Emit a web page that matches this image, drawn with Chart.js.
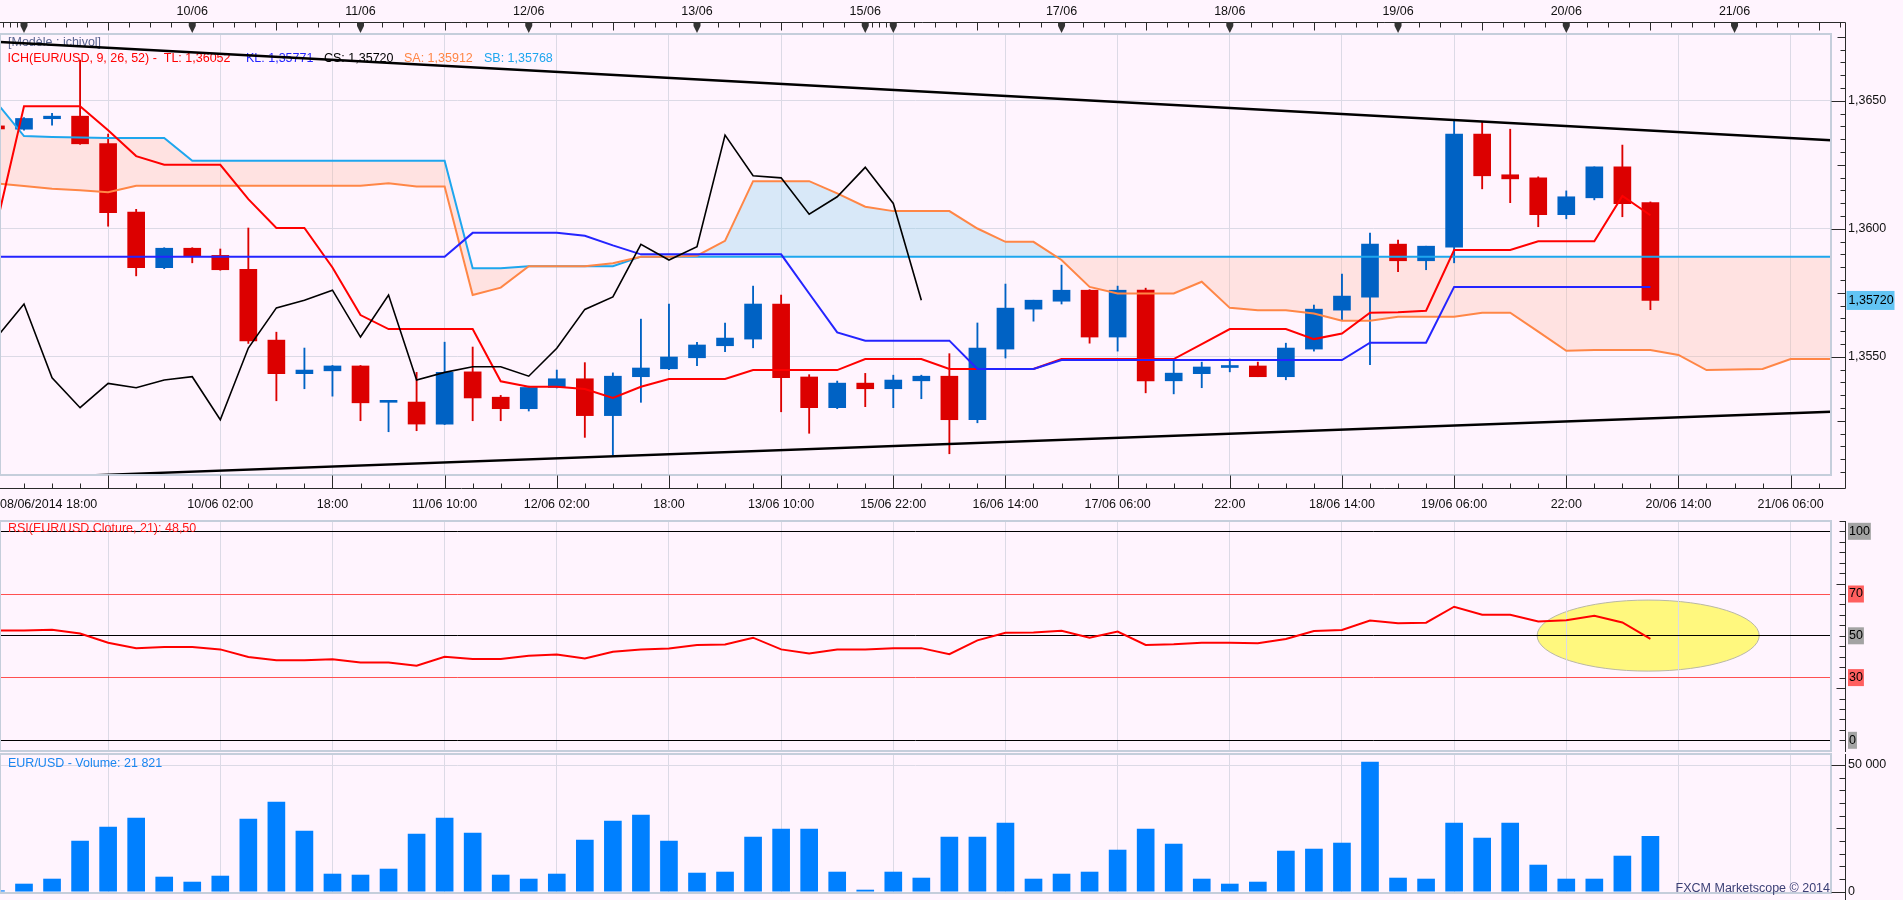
<!DOCTYPE html>
<html lang="fr">
<head>
<meta charset="utf-8">
<title>EUR/USD Ichimoku - FXCM Marketscope</title>
<script src="https://cdn.jsdelivr.net/npm/chart.js@4.4.1/dist/chart.umd.min.js"></script>
<style>
  html, body { margin:0; padding:0; background:#fff4fe; overflow:hidden; }
  #wrap { position:relative; width:1903px; height:900px; background:#fff4fe; overflow:hidden; }
  #wrap canvas { position:absolute; left:0; display:block; }
</style>
</head>
<body>
<div id="wrap">
  <canvas id="cMain" width="1903" height="516" style="top:0;width:1903px;height:516px"></canvas>
  <canvas id="cRsi" width="1903" height="290" style="top:491px;width:1903px;height:290px"></canvas>
  <canvas id="cVol" width="1903" height="199" style="top:724px;width:1903px;height:199px"></canvas>
</div>
<script>
// ====================== DATA (4-hour candles, slot index starts at -1) ======================
const firstIndex = -1;

const opens = [
  1.36402, 1.36389, 1.36430, 1.36440, 1.36333, 1.36065, 1.35848, 1.35924, 1.35896, 1.35842,
  1.35565, 1.35434, 1.35445, 1.35464, 1.35322, 1.35323, 1.35237, 1.35441, 1.35342, 1.35297,
  1.35380, 1.35414, 1.35270, 1.35422, 1.35453, 1.35496, 1.35543, 1.35569, 1.35706, 1.35421,
  1.35301, 1.35397, 1.35375, 1.35406, 1.35424, 1.35254, 1.35530, 1.35686, 1.35717, 1.35760,
  1.35577, 1.35760, 1.35406, 1.35434, 1.35458, 1.35464, 1.35422, 1.35530, 1.35682, 1.35733,
  1.35940, 1.35875, 1.35928, 1.36370, 1.36211, 1.36199, 1.36055, 1.36121, 1.36242, 1.36102
];
const highs = [
  1.36410, 1.36434, 1.36451, 1.36659, 1.36370, 1.36076, 1.35926, 1.35926, 1.35921, 1.36003,
  1.35596, 1.35534, 1.35466, 1.35466, 1.35326, 1.35439, 1.35557, 1.35538, 1.35349, 1.35385,
  1.35448, 1.35477, 1.35437, 1.35647, 1.35706, 1.35556, 1.35632, 1.35776, 1.35741, 1.35430,
  1.35405, 1.35435, 1.35428, 1.35428, 1.35512, 1.35632, 1.35784, 1.35721, 1.35858, 1.35762,
  1.35776, 1.35768, 1.35491, 1.35479, 1.35491, 1.35479, 1.35553, 1.35702, 1.35823, 1.35983,
  1.35956, 1.35932, 1.36424, 1.36417, 1.36389, 1.36203, 1.36148, 1.36242, 1.36327, 1.36105
];
const lows = [
  1.36385, 1.36385, 1.36405, 1.36330, 1.36010, 1.35816, 1.35844, 1.35867, 1.35838, 1.35552,
  1.35328, 1.35375, 1.35346, 1.35250, 1.35207, 1.35211, 1.35235, 1.35250, 1.35250, 1.35288,
  1.35378, 1.35185, 1.35116, 1.35322, 1.35450, 1.35465, 1.35520, 1.35535, 1.35285, 1.35201,
  1.35297, 1.35305, 1.35301, 1.35336, 1.35121, 1.35242, 1.35495, 1.35639, 1.35706, 1.35553,
  1.35522, 1.35359, 1.35355, 1.35379, 1.35441, 1.35422, 1.35410, 1.35522, 1.35643, 1.35469,
  1.35832, 1.35840, 1.35867, 1.36156, 1.36102, 1.36008, 1.36039, 1.36113, 1.36047, 1.35684
];
const closes = [
  1.36390, 1.36431, 1.36440, 1.36332, 1.36063, 1.35848, 1.35924, 1.35893, 1.35840, 1.35562,
  1.35434, 1.35448, 1.35464, 1.35320, 1.35324, 1.35237, 1.35439, 1.35339, 1.35297, 1.35380,
  1.35414, 1.35270, 1.35424, 1.35456, 1.35499, 1.35546, 1.35573, 1.35706, 1.35418, 1.35301,
  1.35397, 1.35375, 1.35409, 1.35424, 1.35254, 1.35534, 1.35690, 1.35721, 1.35760, 1.35577,
  1.35760, 1.35406, 1.35436, 1.35460, 1.35461, 1.35422, 1.35534, 1.35686, 1.35737, 1.35940,
  1.35875, 1.35932, 1.36370, 1.36207, 1.36195, 1.36055, 1.36125, 1.36242, 1.36098, 1.35720
];

// Ichimoku lines (start at slot -1)
const tenkan = [
  1.36005, 1.36479, 1.36479, 1.36479, 1.36385, 1.36284, 1.36250, 1.36250, 1.36250, 1.36116,
  1.36003, 1.36003, 1.35849, 1.35663, 1.35608, 1.35608, 1.35608, 1.35608, 1.35404, 1.35383,
  1.35383, 1.35374, 1.35339, 1.35383, 1.35413, 1.35413, 1.35413, 1.35448, 1.35448, 1.35448,
  1.35448, 1.35491, 1.35491, 1.35491, 1.35452, 1.35452, 1.35452, 1.35452, 1.35491, 1.35491,
  1.35491, 1.35491, 1.35491, 1.35549, 1.35608, 1.35608, 1.35608, 1.35569, 1.35591, 1.35672,
  1.35674, 1.35680, 1.35917, 1.35917, 1.35917, 1.35951, 1.35951, 1.35951, 1.36128, 1.36053
];
const kijun = [
  1.35891, 1.35891, 1.35891, 1.35891, 1.35891, 1.35891, 1.35891, 1.35891, 1.35891, 1.35891,
  1.35891, 1.35891, 1.35891, 1.35891, 1.35891, 1.35891, 1.35891, 1.35984, 1.35984, 1.35984,
  1.35984, 1.35973, 1.35935, 1.35900, 1.35900, 1.35900, 1.35900, 1.35900, 1.35900, 1.35747,
  1.35595, 1.35563, 1.35563, 1.35563, 1.35563, 1.35452, 1.35452, 1.35452, 1.35487, 1.35487,
  1.35487, 1.35487, 1.35487, 1.35487, 1.35487, 1.35487, 1.35487, 1.35487, 1.35487, 1.35555,
  1.35555, 1.35555, 1.35773, 1.35773, 1.35773, 1.35773, 1.35773, 1.35773, 1.35773, 1.35773
];
const chikou = [
  1.35573, 1.35706, 1.35418, 1.35301, 1.35396, 1.35379, 1.35409, 1.35422, 1.35254, 1.35534,
  1.35691, 1.35721, 1.35760, 1.35577, 1.35741, 1.35409, 1.35439, 1.35461, 1.35461, 1.35424,
  1.35533, 1.35685, 1.35734, 1.35939, 1.35878, 1.35930, 1.36366, 1.36207, 1.36199, 1.36057,
  1.36125, 1.36240, 1.36099, 1.35721
];
const senkouA = [
  1.36177, 1.36167, 1.36156, 1.36151, 1.36143, 1.36168, 1.36168, 1.36168, 1.36168, 1.36168,
  1.36168, 1.36168, 1.36168, 1.36168, 1.36178, 1.36165, 1.36165, 1.35741, 1.35770, 1.35854,
  1.35854, 1.35854, 1.35865, 1.35891, 1.35891, 1.35895, 1.35953, 1.36186, 1.36186, 1.36186,
  1.36138, 1.36086, 1.36069, 1.36069, 1.36069, 1.36001, 1.35949, 1.35949, 1.35878, 1.35773,
  1.35747, 1.35747, 1.35747, 1.35793, 1.35691, 1.35682, 1.35682, 1.35669, 1.35641, 1.35641,
  1.35656, 1.35656, 1.35656, 1.35672, 1.35672, 1.35598, 1.35523, 1.35526, 1.35526, 1.35526,
  1.35507, 1.35448, 1.35450, 1.35452, 1.35491, 1.35491, 1.35491
];
const senkouB = [
  1.36496, 1.36362, 1.36359, 1.36357, 1.36355, 1.36355, 1.36355, 1.36266, 1.36266, 1.36266,
  1.36266, 1.36266, 1.36266, 1.36266, 1.36266, 1.36266, 1.36266, 1.35846, 1.35846, 1.35854,
  1.35854, 1.35854, 1.35854, 1.35891, 1.35891, 1.35891, 1.35891, 1.35891, 1.35891, 1.35891,
  1.35891, 1.35891, 1.35891, 1.35891, 1.35891, 1.35891, 1.35891, 1.35891, 1.35891, 1.35891,
  1.35891, 1.35891, 1.35891, 1.35891, 1.35891, 1.35891, 1.35891, 1.35891, 1.35891, 1.35891,
  1.35891, 1.35891, 1.35891, 1.35891, 1.35891, 1.35891, 1.35891, 1.35891, 1.35891, 1.35891,
  1.35891, 1.35891, 1.35891, 1.35891, 1.35891, 1.35891, 1.35891
];
// channel trend lines: [slot, price] end points
const trendUpper = [[-0.856, 1.36730], [64.44, 1.36346]];
const trendLower = [[1.0, 1.35031], [64.44, 1.35285]];

const rsiValues = [
  52.5, 52.5, 52.9, 51.1, 46.7, 44.1, 44.7, 44.6, 43.5, 39.9,
  38.3, 38.3, 38.8, 37.2, 37.2, 35.7, 40.0, 38.9, 38.9, 40.4,
  41.0, 39.1, 42.4, 43.4, 43.9, 45.6, 45.8, 49.1, 43.5, 41.5,
  43.4, 43.4, 44.1, 44.1, 41.2, 47.8, 51.5, 51.6, 52.4, 49.1,
  52.0, 45.6, 45.9, 46.7, 46.7, 46.4, 48.5, 52.3, 52.8, 57.3,
  56.0, 56.3, 63.9, 60.1, 60.1, 56.8, 57.4, 59.6, 56.4, 48.5
];
const volumes = [
  400, 3030, 5000, 20000, 25500, 29060, 5790, 3810, 6180, 28670,
  35370, 23930, 6970, 6575, 8940, 22750, 29060, 23140, 6575, 5000,
  6970, 20380, 27880, 30245, 19990, 7360, 7760, 21570, 24720, 24720,
  7760, 660, 7760, 5390, 21570, 21570, 27090, 5000, 6970, 7760,
  16440, 24720, 18800, 5000, 3025, 3810, 16040, 16830, 19200, 51150,
  5390, 5000, 27090, 21170, 27090, 10520, 5000, 5000, 14070, 21821
];

// axis ticks / labels
const timeTickIdx = [-1, 3, 7, 11, 15, 19, 23, 27, 31, 35, 39, 43, 47, 51, 55, 59, 63];
const timeLabels = ['08/06/2014 18:00', '', '10/06 02:00', '18:00', '11/06 10:00', '12/06 02:00', '18:00',
  '13/06 10:00', '15/06 22:00', '16/06 14:00', '17/06 06:00', '22:00', '18/06 14:00', '19/06 06:00',
  '22:00', '20/06 14:00', '21/06 06:00'];
const dayIdx = [0, 6, 12, 18, 24, 30, 31, 37, 43, 49, 55, 61];
const dayLabels = ['', '10/06', '11/06', '12/06', '13/06', '15/06', '', '17/06', '18/06', '19/06', '20/06', '21/06'];
const priceTicks = [1.3550, 1.3600, 1.3650];
const rsiLevels = [0, 30, 50, 70, 100];
const volTicks = [0, 50000];

const modelTitle = '[Modèle : ichivol]';
const ichLegend = ['ICH(EUR/USD, 9, 26, 52) -  TL: 1,36052', 'KL: 1,35771', 'CS: 1,35720', 'SA: 1,35912', 'SB: 1,35768'];
const rsiTitle = 'RSI(EUR/USD.Cloture, 21): 48,50';
const volTitle = 'EUR/USD - Volume: 21 821';
const copyright = 'FXCM Marketscope © 2014';

// ====================== STYLE / LAYOUT ======================
const FONT = '"Liberation Sans", Arial, Helvetica, sans-serif';
const TXT = '12.5px ' + FONT;
const COL = {
  bull: '#0062c4', bear: '#dc0000', tl: '#ff0000', kl: '#2424ff', cs: '#000000',
  sa: '#ff8646', sb: '#1ea6ee', grid: '#dcdae6', border: '#c5cedb', axis: '#2a2a2a',
  pinkFill: 'rgba(255,184,160,0.30)', blueFill: 'rgba(125,204,234,0.30)',
  rsi: '#ff0000', vol: '#0080ff', model: '#5b6490'
};
const legendColors = [COL.tl, COL.kl, COL.cs, COL.sa, COL.sb];
const legendX = [7.5, 246, 324, 404, 484];
const X_MIN = -0.856, X_MAX = 64.44;
const AXIS_X = 1845.5;
const highlight = { x: 57.92, y: 50.1, rx: 3.96, ry: 17 }; // yellow ellipse annotation (slot / RSI units)

const toXY = (arr, start) => arr.map((v, k) => ({ x: start + k, y: v }));
const slots = opens.map((_, k) => firstIndex + k);
const candleColors = opens.map((o, k) => closes[k] >= o ? COL.bull : COL.bear);
const gridIdx = timeTickIdx.filter(i => i > X_MIN);

function timeAxis() {
  return {
    type: 'linear', position: 'bottom', min: X_MIN, max: X_MAX, offset: false,
    grid: { color: COL.grid, lineWidth: 1, drawTicks: false, offset: false },
    border: { display: false },
    ticks: { display: false },
    afterBuildTicks: s => { s.ticks = gridIdx.map(v => ({ value: v })); },
    afterFit: s => { s.height = 0; }
  };
}
function baseOptions(padding) {
  return {
    responsive: false, animation: false, events: [],
    layout: { autoPadding: false, padding },
    plugins: { legend: { display: false }, tooltip: { enabled: false }, filler: { drawTime: 'beforeDatasetsDraw' } }
  };
}
function hline(ctx, x1, x2, y) { ctx.moveTo(x1, y); ctx.lineTo(x2, y); }
function vline(ctx, x, y1, y2) { ctx.moveTo(x, y1); ctx.lineTo(x, y2); }
const crisp = v => Math.round(v) + 0.5;

// ====================== MAIN PRICE CHART ======================
const mainDecor = {
  id: 'mainDecor',
  beforeDatasetsDraw(chart) {
    const { ctx, chartArea: a } = chart;
    ctx.save();
    ctx.font = TXT; ctx.textBaseline = 'middle'; ctx.textAlign = 'left';
    ctx.fillStyle = COL.model; ctx.fillText(modelTitle, 8, a.top + 9);
    ichLegend.forEach((t, k) => { ctx.fillStyle = legendColors[k]; ctx.fillText(t, legendX[k], a.top + 25); });
    ctx.restore();
  },
  afterDraw(chart) {
    const { ctx, chartArea: a } = chart;
    const xs = chart.scales.x, ys = chart.scales.y;
    const TOPY = 22.5, BOTY = 488.5;
    ctx.save();
    ctx.strokeStyle = COL.border; ctx.lineWidth = 2;
    ctx.strokeRect(a.left, a.top, a.right - a.left, a.bottom - a.top);

    ctx.strokeStyle = COL.axis; ctx.lineWidth = 1;
    ctx.beginPath();
    hline(ctx, 0, AXIS_X, TOPY);
    hline(ctx, 0, AXIS_X, BOTY);
    vline(ctx, AXIS_X, TOPY, BOTY);
    for (let k = 13500; k <= 13680; k += 5) {
      const py = crisp(ys.getPixelForValue(k / 10000));
      if (py < a.top || py > a.bottom) continue;
      const len = k % 50 === 0 ? 14 : (k % 25 === 0 ? 8 : 5);
      hline(ctx, AXIS_X - len, AXIS_X, py);
    }
    for (let i = -1; i <= 65; i++) {
      const px = crisp(xs.getPixelForValue(i));
      if (px < 0 || px > a.right) continue;
      const major = ((i % 4) + 4) % 4 === 3;
      vline(ctx, px, BOTY, BOTY - (major ? 13 : 5));
    }
    const segs = [-1].concat(dayIdx, [67]);
    for (let s = 0; s < segs.length - 1; s++) {
      const a0 = segs[s], a1 = segs[s + 1];
      const n = (a1 - a0) >= 4 ? 8 : 4;
      for (let k = 1; k < n; k++) {
        const px = crisp(xs.getPixelForValue(a0 + (a1 - a0) * k / n));
        if (px < 0 || px > AXIS_X) continue;
        vline(ctx, px, TOPY, TOPY + ((n === 8 && k === 4) ? 8 : 5));
      }
    }
    ctx.stroke();

    ctx.fillStyle = '#333';
    dayIdx.forEach(d => {
      const px = xs.getPixelForValue(d);
      ctx.beginPath();
      ctx.moveTo(px - 3.5, 22); ctx.lineTo(px + 3.5, 22); ctx.lineTo(px + 3.5, 26);
      ctx.lineTo(px, 33); ctx.lineTo(px - 3.5, 26); ctx.closePath(); ctx.fill();
    });

    ctx.font = TXT; ctx.textBaseline = 'middle'; ctx.fillStyle = '#111';
    dayLabels.forEach((t, k) => {
      if (!t) return;
      ctx.textAlign = 'center';
      ctx.fillText(t, xs.getPixelForValue(dayIdx[k]), 12);
    });
    timeLabels.forEach((t, k) => {
      if (!t) return;
      const px = xs.getPixelForValue(timeTickIdx[k]);
      const w = ctx.measureText(t).width;
      if (px - w / 2 < 0) { ctx.textAlign = 'left'; ctx.fillText(t, 0, 505); }
      else { ctx.textAlign = 'center'; ctx.fillText(t, px, 505); }
    });

    const last = closes[closes.length - 1];
    const py = ys.getPixelForValue(last);
    ctx.fillStyle = '#62c4f4';
    ctx.fillRect(AXIS_X + 1, py - 9.5, 48, 19);
    ctx.fillStyle = '#000'; ctx.textAlign = 'left';
    ctx.fillText(last.toFixed(5).replace('.', ','), AXIS_X + 3, py + 0.5);
    ctx.restore();
  }
};

const lineDs = (data, color, width, order, extra) => Object.assign({
  type: 'line', data, borderColor: color, borderWidth: width, pointRadius: 0,
  fill: false, tension: 0, order, clip: 0
}, extra || {});

const mainOpts = baseOptions({ left: 0, right: 0, top: 34, bottom: 41 });
mainOpts.scales = {
  x: timeAxis(),
  y: {
    type: 'linear', position: 'right', min: 1.35038, max: 1.36761, beginAtZero: false,
    grid: { color: COL.grid, lineWidth: 1, drawTicks: false },
    border: { display: false },
    afterBuildTicks: s => { s.ticks = priceTicks.map(v => ({ value: v })); },
    ticks: { padding: 17, color: '#111', font: { family: FONT, size: 12.5 },
             callback: v => Number(v).toFixed(4).replace('.', ',') },
    afterFit: s => { s.width = 72; }
  }
};

new Chart(document.getElementById('cMain'), {
  type: 'bar',
  data: {
    datasets: [
      { type: 'bar', data: slots.map((x, k) => ({ x, y: [lows[k], highs[k]] })), backgroundColor: candleColors,
        borderWidth: 0, barThickness: 1.2, grouped: false, order: 11, clip: 0 },
      { type: 'bar', data: slots.map((x, k) => ({ x, y: [opens[k], closes[k]] })), backgroundColor: candleColors,
        borderWidth: 0, barThickness: 17, minBarLength: 2, grouped: false, order: 10, clip: 0 },
      lineDs(toXY(senkouB, firstIndex), COL.sb, 2, 6),
      lineDs(toXY(senkouA, firstIndex), COL.sa, 2, 5, { fill: { target: 2, above: COL.blueFill, below: COL.pinkFill } }),
      lineDs(toXY(tenkan, firstIndex), COL.tl, 2, 4),
      lineDs(toXY(kijun, firstIndex), COL.kl, 2, 3),
      lineDs(toXY(chikou, firstIndex), COL.cs, 1.6, 2),
      lineDs(trendUpper.map(([x, y]) => ({ x, y })), '#000', 2.4, 1),
      lineDs(trendLower.map(([x, y]) => ({ x, y })), '#000', 2.4, 1)
    ]
  },
  options: mainOpts,
  plugins: [mainDecor]
});

// ====================== RSI CHART ======================
const rsiDecor = {
  id: 'rsiDecor',
  beforeDraw(chart) {
    const { ctx } = chart;
    const xs = chart.scales.x, ys = chart.scales.y;
    const cx = xs.getPixelForValue(highlight.x), cy = ys.getPixelForValue(highlight.y);
    const rx = xs.getPixelForValue(highlight.x + highlight.rx) - cx;
    const ry = cy - ys.getPixelForValue(highlight.y + highlight.ry);
    ctx.save();
    ctx.beginPath(); ctx.ellipse(cx, cy, rx, ry, 0, 0, Math.PI * 2);
    ctx.fillStyle = '#fff87e'; ctx.fill();
    ctx.strokeStyle = '#b9b7a6'; ctx.lineWidth = 1; ctx.stroke();
    ctx.restore();
  },
  beforeDatasetsDraw(chart) {
    const { ctx, chartArea: a } = chart;
    ctx.save();
    ctx.font = TXT; ctx.textBaseline = 'middle'; ctx.textAlign = 'left';
    ctx.fillStyle = '#ff1a1a'; ctx.fillText(rsiTitle, 8, a.top + 8);
    ctx.restore();
  },
  afterDraw(chart) {
    const { ctx, chartArea: a } = chart;
    const ys = chart.scales.y;
    ctx.save();
    ctx.strokeStyle = COL.border; ctx.lineWidth = 2;
    ctx.strokeRect(a.left, a.top, a.right - a.left, a.bottom - a.top);
    ctx.strokeStyle = COL.axis; ctx.lineWidth = 1;
    ctx.beginPath();
    vline(ctx, AXIS_X, a.top, a.bottom + 1);
    for (let v = 0; v <= 105; v += 5) {
      const py = crisp(ys.getPixelForValue(v));
      if (py < a.top || py > a.bottom) continue;
      hline(ctx, AXIS_X - (v % 25 === 0 && v % 50 !== 0 ? 9 : 6), AXIS_X, py);
    }
    ctx.stroke();
    ctx.restore();
  }
};

// canvas top at 491 (height 290): chart area spans 521..751
const rsiOpts = baseOptions({ left: 0, right: 0, top: 30, bottom: 30 });
rsiOpts.scales = {
  x: timeAxis(),
  y: {
    type: 'linear', position: 'right', min: -5.12, max: 104.93,
    grid: { color: c => ([30, 70].includes(c.tick.value) ? '#ff5050' : '#000000'), lineWidth: 1, drawTicks: false },
    border: { display: false },
    afterBuildTicks: s => { s.ticks = rsiLevels.map(v => ({ value: v })); },
    ticks: {
      padding: 18, color: '#000', font: { family: FONT, size: 12.5 },
      showLabelBackdrop: true,
      backdropColor: c => ([30, 70].includes(c.tick.value) ? '#ff5f5f' : '#a3a3a3'),
      backdropPadding: { top: 1, bottom: 1, left: 1, right: 1 },
      callback: v => String(v)
    },
    afterFit: s => { s.width = 72; }
  }
};
new Chart(document.getElementById('cRsi'), {
  type: 'line',
  data: { datasets: [ lineDs(toXY(rsiValues, firstIndex), COL.rsi, 2, 1) ] },
  options: rsiOpts,
  plugins: [rsiDecor]
});

// ====================== VOLUME CHART ======================
const volDecor = {
  id: 'volDecor',
  beforeDatasetsDraw(chart) {
    const { ctx, chartArea: a } = chart;
    ctx.save();
    ctx.font = TXT; ctx.textBaseline = 'middle'; ctx.textAlign = 'left';
    ctx.fillStyle = '#1a86f0'; ctx.fillText(volTitle, 8, a.top + 10);
    ctx.restore();
  },
  afterDraw(chart) {
    const { ctx, chartArea: a } = chart;
    const ys = chart.scales.y;
    ctx.save();
    ctx.strokeStyle = COL.border; ctx.lineWidth = 2;
    ctx.strokeRect(a.left, a.top, a.right - a.left, a.bottom - a.top);
    ctx.strokeStyle = COL.axis; ctx.lineWidth = 1;
    ctx.beginPath();
    vline(ctx, AXIS_X, a.top, chart.height);
    for (let v = 0; v <= 55000; v += 5000) {
      const py = crisp(ys.getPixelForValue(v));
      if (py < a.top || py > a.bottom) continue;
      const len = v % 50000 === 0 ? 14 : (v % 25000 === 0 ? 9 : 6);
      hline(ctx, AXIS_X - len, AXIS_X, py);
    }
    ctx.stroke();
    ctx.font = TXT; ctx.textBaseline = 'middle'; ctx.textAlign = 'right';
    ctx.fillStyle = '#3b3f75';
    ctx.fillText(copyright, a.right - 1, a.bottom - 4);
    ctx.restore();
  }
};

// canvas top at 724 (height 199): chart area spans 754..893
const volOpts = baseOptions({ left: 0, right: 0, top: 30, bottom: 30 });
volOpts.scales = {
  x: timeAxis(),
  y: {
    type: 'linear', position: 'right', min: -513, max: 54341, beginAtZero: false,
    grid: { color: c => (c.tick.value === 50000 ? COL.grid : 'rgba(0,0,0,0)'), lineWidth: 1, drawTicks: false },
    border: { display: false },
    afterBuildTicks: s => { s.ticks = volTicks.map(v => ({ value: v })); },
    ticks: { padding: 17, color: '#111', font: { family: FONT, size: 12.5 },
             callback: v => String(v).replace(/\B(?=(\d{3})+(?!\d))/g, ' ') },
    afterFit: s => { s.width = 72; }
  }
};
new Chart(document.getElementById('cVol'), {
  type: 'bar',
  data: { datasets: [ { type: 'bar', data: slots.map((x, k) => ({ x, y: volumes[k] })), backgroundColor: COL.vol,
    borderWidth: 0, barThickness: 17, grouped: false, clip: 0 } ] },
  options: volOpts,
  plugins: [volDecor]
});
</script>
</body>
</html>
